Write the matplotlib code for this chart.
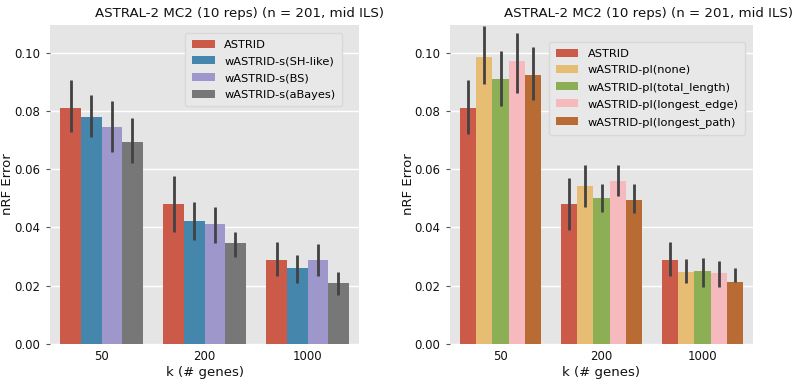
import numpy as np
import matplotlib
matplotlib.use('Agg')
import matplotlib.pyplot as plt

# Categories
k_labels = ['50', '200', '1000']
title = 'ASTRAL-2 MC2 (10 reps) (n = 201, mid ILS)'

# Left panel: support-weighted variants
left_names = ['ASTRID', 'wASTRID-s(SH-like)', 'wASTRID-s(BS)', 'wASTRID-s(aBayes)']
left_mean = [[0.0810, 0.0481, 0.0289],
             [0.0780, 0.0422, 0.0260],
             [0.0745, 0.0412, 0.0290],
             [0.0695, 0.0345, 0.0208]]
left_lo = [[0.0727, 0.0385, 0.0233],
           [0.0710, 0.0357, 0.0210],
           [0.0660, 0.0345, 0.0233],
           [0.0620, 0.0300, 0.0168]]
left_hi = [[0.0905, 0.0577, 0.0349],
           [0.0855, 0.0486, 0.0304],
           [0.0835, 0.0471, 0.0343],
           [0.0775, 0.0385, 0.0248]]

# Right panel: branch-length weighted variants
right_names = ['ASTRID', 'wASTRID-pl(none)', 'wASTRID-pl(total_length)',
               'wASTRID-pl(longest_edge)', 'wASTRID-pl(longest_path)']
right_mean = [[0.0810, 0.0481, 0.0289],
              [0.0986, 0.0542, 0.0248],
              [0.0908, 0.0500, 0.0250],
              [0.0972, 0.0559, 0.0245],
              [0.0923, 0.0496, 0.0214]]
right_lo = [[0.0720, 0.0391, 0.0233],
            [0.0891, 0.0471, 0.0208],
            [0.0816, 0.0452, 0.0197],
            [0.0860, 0.0509, 0.0197],
            [0.0837, 0.0448, 0.0213]]
right_hi = [[0.0905, 0.0571, 0.0349],
            [0.1090, 0.0616, 0.0293],
            [0.1006, 0.0548, 0.0294],
            [0.1066, 0.0616, 0.0285],
            [0.1020, 0.0548, 0.0260]]

left_colors = ['#cc5a49', '#4586ac', '#9e97cc', '#777777']
right_colors = ['#cc5a49', '#e6bd72', '#8caf55', '#f5b9be', '#b86c33']

fig = plt.figure(figsize=(7.97, 3.81), dpi=100)
axl = fig.add_axes([50 / 797, 37 / 381, 309 / 797, 319 / 381])
axr = fig.add_axes([450 / 797, 37 / 381, 303 / 797, 319 / 381])


def draw_panel(ax, names, means, los, his, colors):
    n = len(names)
    w = 0.8 / n
    x = np.arange(len(k_labels))
    for j in range(n):
        pos = x + (j - (n - 1) / 2) * w
        m = np.array(means[j])
        err = np.vstack([m - np.array(los[j]), np.array(his[j]) - m])
        ax.bar(pos, m, width=w, color=colors[j], label=names[j], zorder=2)
        ax.errorbar(pos, m, yerr=err, fmt='none', ecolor='#424242',
                    elinewidth=2.0, capsize=0, zorder=3)

    ax.set_facecolor('#e5e5e5')
    for spine in ax.spines.values():
        spine.set_visible(False)
    ax.set_axisbelow(True)
    ax.grid(axis='y', color='white', linewidth=1.0, zorder=0)
    ax.set_xlim(-0.5, 2.5)
    ax.set_ylim(0, 0.1095)
    ticks = np.arange(0, 0.101, 0.02)
    ax.set_yticks(ticks)
    ax.set_yticklabels(['%.2f' % v for v in ticks])
    ax.set_xticks(x)
    ax.set_xticklabels(k_labels)
    ax.tick_params(axis='x', length=0, pad=4.5, labelsize=8.5, labelcolor='#111111')
    ax.tick_params(axis='y', length=3, width=0.8, color='#555555', pad=4,
                   labelsize=8.5, labelcolor='#111111')
    ax.set_xlabel('k (# genes)', fontsize=9.5, color='#111111', labelpad=2)
    ax.set_ylabel('nRF Error', fontsize=9.5, color='#111111')
    ax.yaxis.set_label_coords(-36 / 309, 0.5)


draw_panel(axl, left_names, left_mean, left_lo, left_hi, left_colors)
draw_panel(axr, right_names, right_mean, right_lo, right_hi, right_colors)

leg_kw = dict(fontsize=8.2, facecolor='#e8e8e8', edgecolor='#d8d8d8', framealpha=1,
              handlelength=2.0, handleheight=0.7, handletextpad=0.8,
              labelspacing=0.58, borderpad=0.6, borderaxespad=0)
axl.legend(loc='upper right', bbox_to_anchor=(0.945, 0.975), **leg_kw)
axr.legend(loc='upper right', bbox_to_anchor=(0.975, 0.947), **leg_kw)

fig.text(239 / 797, 1 - 14 / 381, title, ha='center', va='center', fontsize=9.6, color='#111111')
fig.text(648 / 797, 1 - 14 / 381, title, ha='center', va='center', fontsize=9.6, color='#111111')

fig.savefig('out.png', dpi=100)
